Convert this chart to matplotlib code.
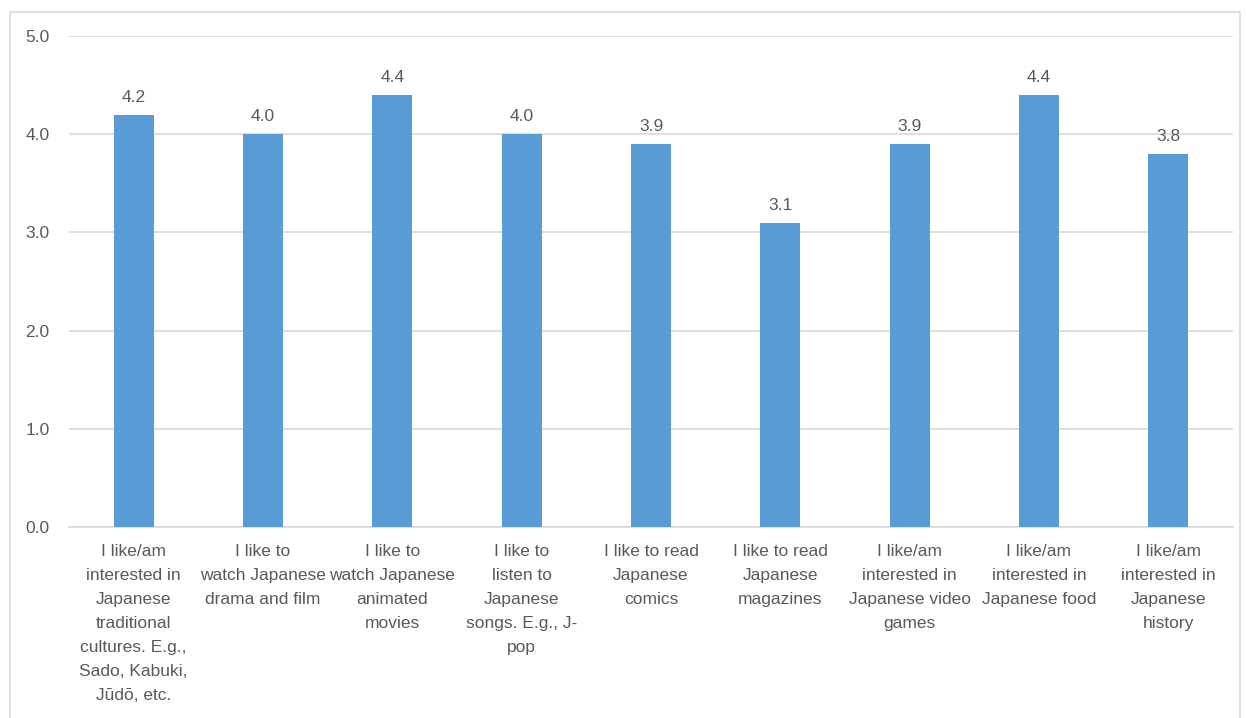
import matplotlib
matplotlib.use("Agg")
import matplotlib.pyplot as plt
from matplotlib.patches import Rectangle

categories = [
    "I like/am\ninterested in\nJapanese\ntraditional\ncultures. E.g.,\nSado, Kabuki,\nJūdō, etc.",
    "I like to\nwatch Japanese\ndrama and film",
    "I like to\nwatch Japanese\nanimated\nmovies",
    "I like to\nlisten to\nJapanese\nsongs. E.g., J-\npop",
    "I like to read\nJapanese\ncomics",
    "I like to read\nJapanese\nmagazines",
    "I like/am\ninterested in\nJapanese video\ngames",
    "I like/am\ninterested in\nJapanese food",
    "I like/am\ninterested in\nJapanese\nhistory",
]
scores = [4.2, 4.0, 4.4, 4.0, 3.9, 3.1, 3.9, 4.4, 3.8]
yticks = [0.0, 1.0, 2.0, 3.0, 4.0, 5.0]

plt.rcParams['font.family'] = ['Liberation Sans', 'DejaVu Sans']
text_col = "#595959"
grid_col = "#d9d9d9"
bar_col = "#5b9bd5"
fs = 12.5

W, H = 1246, 718
fig = plt.figure(figsize=(W / 100, H / 100), dpi=100)
ax = fig.add_axes([69 / W, 191 / H, (1233 - 69) / W, (527 - 36) / H])

# chart border
fig.patches.append(Rectangle((10 / W, -0.05), (1240 - 10) / W, (H - 12) / H + 0.05,
                             transform=fig.transFigure, fill=False,
                             edgecolor=grid_col, linewidth=1.2))

x = list(range(len(scores)))
bars = ax.bar(x, scores, width=0.31, color=bar_col, zorder=3)
for b, v in zip(bars, scores):
    ax.annotate(f"{v:.1f}", (b.get_x() + b.get_width() / 2, v), xytext=(0, 7),
                textcoords="offset points", ha="center", va="bottom",
                fontsize=fs, color=text_col)

ax.set_xlim(-0.5, len(scores) - 0.5)
ax.set_ylim(0, 5)
ax.set_yticks(yticks)
ax.set_yticklabels([f"{t:.1f}" for t in yticks])
ax.set_xticks(x)
ax.set_xticklabels(categories, linespacing=1.76)
ax.tick_params(axis="both", length=0, labelsize=fs, colors=text_col)
ax.tick_params(axis="y", pad=14)
ax.tick_params(axis="x", pad=12)
ax.grid(axis="y", color=grid_col, linewidth=1.2, zorder=0)
for s in ["top", "left", "right"]:
    ax.spines[s].set_visible(False)
ax.spines["bottom"].set_color(grid_col)
ax.spines["bottom"].set_linewidth(1.2)

fig.savefig("out.png", dpi=100)
